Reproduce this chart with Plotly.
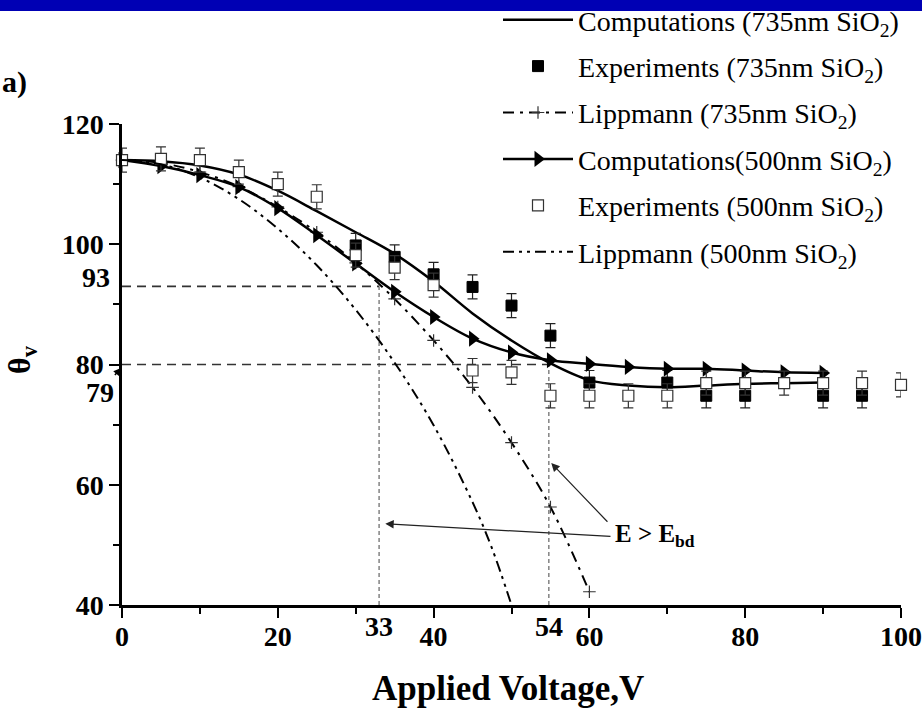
import plotly.graph_objects as go

# ---------------- data ----------------
volt_comp735 = [0, 5, 10, 15, 20, 25, 30, 35, 40, 45, 50, 55, 60, 65, 70, 75, 80, 85, 90]
theta_comp735 = [114, 113.8, 113.1, 111.6, 108.9, 105.5, 102.0, 98.4, 93.8, 88.5, 84.0, 80.2, 77.4,
                 76.5, 76.2, 76.5, 76.8, 76.9, 77.0]

volt_exp735 = [30, 35, 40, 45, 50, 55, 60, 70, 75, 80, 90, 95]
theta_exp735 = [99.8, 97.9, 95.0, 92.9, 89.8, 84.8, 77.0, 77.0, 74.8, 74.8, 74.8, 74.8]
err_exp735 = [2] * len(volt_exp735)

volt_lipp735 = [0, 5, 10, 15, 20, 25, 30, 35, 40, 45, 50, 55, 60]
theta_lipp735 = [114, 113.5, 112.0, 109.6, 106.2, 102.0, 96.9, 90.9, 84.0, 76.2, 67.0, 56.3, 42.2]

volt_comp500 = [0, 5, 10, 15, 20, 25, 30, 35, 40, 45, 50, 55, 60, 65, 70, 75, 80, 85, 90]
theta_comp500 = [114, 113.0, 111.5, 109.5, 106.0, 101.5, 96.8, 92.1, 87.9, 84.3, 82.0, 80.7, 80.1,
                 79.6, 79.3, 79.3, 79.0, 78.7, 78.6]

volt_exp500 = [0, 5, 10, 15, 20, 25, 30, 35, 40, 45, 50, 55, 60, 65, 70, 75, 80, 85, 90, 95, 100]
theta_exp500 = [114, 114.2, 114.0, 112.0, 110.0, 107.9, 98.2, 96.1, 93.2, 79.0, 78.7, 74.8, 74.8,
                74.8, 74.8, 76.9, 76.9, 76.9, 76.9, 76.9, 76.6]
err_exp500 = [2] * len(volt_exp500)

volt_lipp500 = [0, 5, 10, 15, 20, 25, 30, 35, 40, 45, 47.5, 50]
theta_lipp500 = [114, 113.3, 111.1, 107.5, 102.6, 96.5, 89.1, 80.3, 69.9, 57.1, 49.4, 40.0]

x_ticks = [0, 20, 40, 60, 80, 100]
x_minor = [10, 30, 50, 70, 90]
y_ticks = [40, 60, 80, 100, 120]
y_minor = [50, 70, 90, 110]

# marked points (dashed guide lines)
guide_volts = [33, 54.8]
guide_volt_labels = ["33", "54"]
guide_thetas = [93, 80]

FONT = "Liberation Serif"

fig = go.Figure()

fig.add_trace(go.Scatter(
    x=volt_comp735, y=theta_comp735, mode="lines", line_shape="spline",
    name="Computations (735nm SiO<sub>2</sub>)", legendgroup="a",
    line=dict(color="black", width=2.5), cliponaxis=False))

fig.add_trace(go.Scatter(
    x=volt_exp735, y=theta_exp735, mode="markers",
    name="Experiments (735nm SiO<sub>2</sub>)", legendgroup="b",
    marker=dict(symbol="square", size=11, color="black", line=dict(color="black", width=1)),
    error_y=dict(type="data", array=err_exp735, visible=True, color="#222", thickness=1.2, width=5),
    cliponaxis=False))

fig.add_trace(go.Scatter(
    x=volt_lipp735, y=theta_lipp735, mode="lines+markers", line_shape="spline",
    name="Lippmann (735nm SiO<sub>2</sub>)", legendgroup="c",
    line=dict(color="black", width=2, dash="11px,6px,3px,6px"),
    marker=dict(symbol="cross-thin", size=9, line=dict(color="#333", width=1.2)),
    cliponaxis=False))

fig.add_trace(go.Scatter(
    x=volt_comp500, y=theta_comp500, mode="lines+markers", line_shape="spline",
    name="Computations(500nm SiO<sub>2</sub>)", legendgroup="d",
    line=dict(color="black", width=2.5),
    marker=dict(symbol="triangle-right", size=14, color="black"),
    cliponaxis=False))

fig.add_trace(go.Scatter(
    x=volt_exp500, y=theta_exp500, mode="markers",
    name="Experiments (500nm SiO<sub>2</sub>)", legendgroup="e",
    marker=dict(symbol="square", size=11, color="white", line=dict(color="#333", width=1.2)),
    error_y=dict(type="data", array=err_exp500, visible=True, color="#333", thickness=1.2, width=5),
    cliponaxis=False))

fig.add_trace(go.Scatter(
    x=volt_lipp500, y=theta_lipp500, mode="lines", line_shape="spline",
    name="Lippmann (500nm SiO<sub>2</sub>)", legendgroup="f",
    line=dict(color="black", width=2, dash="11px,5px,3px,5px,3px,5px"),
    cliponaxis=False))

L, R, T, B = 122, 21, 124, 105
W, H = 922, 710
pw, ph = W - L - R, H - T - B


def px2x(px):
    return (px - L) / pw


def py2y(py):
    return (H - B - py) / ph


shapes = []
# blue band at the top
shapes.append(dict(type="rect", xref="paper", yref="paper", x0=px2x(0), x1=px2x(W),
                   y0=py2y(11), y1=py2y(-2), fillcolor="#0000B4", line=dict(width=0), layer="above"))
# dashed guide lines
for v, t in zip(guide_volts, guide_thetas):
    shapes.append(dict(type="line", xref="x", yref="y", x0=0, x1=v, y0=t, y1=t,
                       line=dict(color="#333", width=1.6, dash="9px,6px"), layer="below"))
    shapes.append(dict(type="line", xref="x", yref="y", x0=v, x1=v, y0=40, y1=t,
                       line=dict(color="#444", width=1, dash="4px,3px"), layer="below"))

annotations = []
bold = dict(family=FONT, color="black")
annotations.append(dict(xref="paper", yref="paper", x=px2x(0), y=py2y(82), xanchor="left",
                        yanchor="middle", text="<b>a)</b>", showarrow=False,
                        font=dict(size=30, **bold)))
annotations.append(dict(xref="paper", yref="paper", x=px2x(21), y=py2y(360), xanchor="center",
                        yanchor="middle", text="<b>θ<sub>v</sub></b>", textangle=-90,
                        showarrow=False, font=dict(size=32, **bold)))
annotations.append(dict(xref="paper", yref="paper", x=px2x(508), y=py2y(688), xanchor="center",
                        yanchor="middle", text="<b>Applied Voltage,V</b>", showarrow=False,
                        font=dict(size=35, **bold)))
annotations.append(dict(xref="paper", yref="y", x=px2x(112), y=94.5, xanchor="right",
                        yanchor="middle", text="<b>93</b>", showarrow=False,
                        font=dict(size=28, **bold)))
annotations.append(dict(xref="paper", yref="paper", x=px2x(121), y=py2y(368),
                        text="<b>79</b>", showarrow=True, arrowhead=2, arrowsize=1,
                        arrowwidth=1.5, arrowcolor="black", ax=-21, ay=24, standoff=0,
                        font=dict(size=28, **bold)))
for v, lab in zip(guide_volts, guide_volt_labels):
    annotations.append(dict(xref="x", yref="paper", x=v, y=py2y(626), xanchor="center",
                            yanchor="middle", text="<b>%s</b>" % lab, showarrow=False,
                            font=dict(size=28, **bold)))
annotations.append(dict(xref="x", yref="y", x=63.0, y=51.6, xanchor="left", yanchor="middle",
                        text="<b>E > E<sub>bd</sub></b>", showarrow=False,
                        font=dict(size=25, **bold)))
annotations.append(dict(xref="x", yref="y", axref="x", ayref="y", x=33.8, y=53.5, ax=62.9, ay=51.4,
                        text="", showarrow=True, arrowhead=2, arrowsize=1.4, arrowwidth=1.2,
                        arrowcolor="#222", standoff=0, startstandoff=0))
annotations.append(dict(xref="x", yref="y", axref="x", ayref="y", x=55.1, y=63.6, ax=62.5, ay=53.6,
                        text="", showarrow=True, arrowhead=2, arrowsize=1.4, arrowwidth=1.2,
                        arrowcolor="#222", standoff=0, startstandoff=0))

fig.update_layout(
    width=W, height=H,
    margin=dict(l=L, r=R, t=T, b=B, pad=0, autoexpand=False),
    paper_bgcolor="white", plot_bgcolor="white",
    font=dict(family=FONT, color="black"),
    showlegend=True,
    legend=dict(x=px2x(498), y=py2y(-5), xanchor="left", yanchor="top",
                bgcolor="rgba(0,0,0,0)", borderwidth=0, itemwidth=70,
                tracegroupgap=7, traceorder="grouped",
                font=dict(family=FONT, size=28, color="black")),
    shapes=shapes,
    annotations=annotations,
)

fig.update_xaxes(range=[0, 100], tickvals=x_ticks, showgrid=False, zeroline=False,
                 showline=True, linecolor="black", linewidth=2.5,
                 ticks="outside", ticklen=10, tickwidth=2, tickcolor="black",
                 ticklabelstandoff=-5,
                 tickfont=dict(family=FONT, size=28, color="black", weight="bold"),
                 minor=dict(tickvals=x_minor, ticks="outside", ticklen=6, tickwidth=2,
                            tickcolor="black", showgrid=False))
fig.update_yaxes(range=[40, 120], tickvals=y_ticks, showgrid=False, zeroline=False,
                 showline=True, linecolor="black", linewidth=2.5,
                 ticks="outside", ticklen=10, tickwidth=2, tickcolor="black",
                 tickfont=dict(family=FONT, size=28, color="black", weight="bold"),
                 minor=dict(tickvals=y_minor, ticks="outside", ticklen=6, tickwidth=2,
                            tickcolor="black", showgrid=False))

fig.write_html("out.html")
